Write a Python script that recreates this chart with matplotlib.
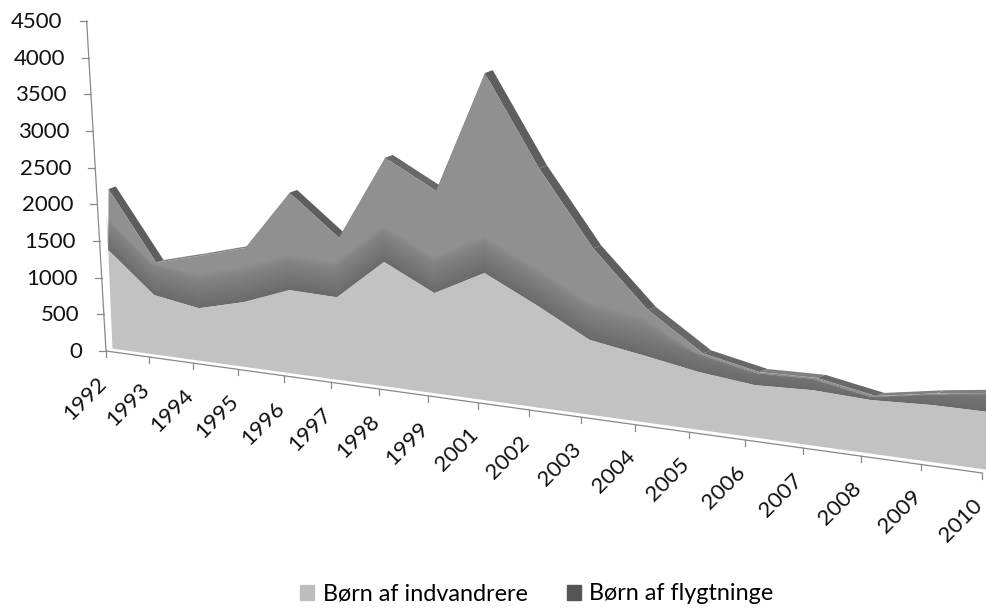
import numpy as np
import matplotlib
matplotlib.use("Agg")
import matplotlib.pyplot as plt
from matplotlib.patches import Patch

# data
years = ["1992", "1993", "1994", "1995", "1996", "1997", "1998", "1999", "2001",
         "2002", "2003", "2004", "2005", "2006", "2007", "2008", "2009", "2010"]
indvandrere = [1340, 797, 695, 851, 1083, 1063, 1590, 1264, 1589,
               1261, 909, 801, 684, 612, 639, 610, 642, 645]
flygtninge = [810, 418, 682, 697, 1255, 751, 1316, 1277, 2490,
              1681, 1105, 534, 204, 136, 124, 28, 114, 204]
yticks = [0, 500, 1000, 1500, 2000, 2500, 3000, 3500, 4000, 4500]
legend_labels = ["Børn af indvandrere", "Børn af flygtninge"]

plt.rcParams["font.family"] = ["Lato", "DejaVu Sans"]

LIGHT = "#c2c2c2"
DARK = "#909090"
EDGE = "#888888"


# pseudo 3D projekce: kategorie, hodnota, hloubka -> pixely
def proj(i, v, d=0.0):
    i = np.asarray(i, dtype=float)
    v = np.asarray(v, dtype=float)
    w = 1 - 0.00998 * i
    x = 106 + (42.8 * i + 19 * d + (0.00037 * i - 0.0043) * v) / w
    y = 351 + (5.96 * i - 0.0733 * v - 7 * d) / w
    return np.column_stack([x, y])


idx = np.arange(len(years))
light = np.array(indvandrere, dtype=float)
total = light + np.array(flygtninge, dtype=float)
zero = np.zeros(len(years))
FRONT = 0.42
TOP_FRONT = 0.62
FLOOR = 0.34

fig = plt.figure(figsize=(9.86, 6.09), dpi=100)
ax = fig.add_axes([0, 0, 1, 1])
ax.set_xlim(0, 986)
ax.set_ylim(609, 0)
ax.axis("off")

# horni strana oblasti, strmejsi klesani je tmavsi
for k in range(len(years) - 1):
    a = proj(idx[k:k + 2], total[k:k + 2], TOP_FRONT)
    b = proj(idx[k:k + 2], total[k:k + 2], 1.0)
    drop = (a[1, 1] - a[0, 1]) / (a[1, 0] - a[0, 0])
    shade = "#5e5e5e" if drop > 0.9 else "#686868" if drop > 0.25 else "#808080"
    ax.fill(np.r_[a[:, 0], b[::-1, 0]], np.r_[a[:, 1], b[::-1, 1]], color=shade, lw=0)

# predni strany
top = proj(idx, total, TOP_FRONT)
mid = proj(idx, light, FRONT)
bottom = proj(idx, zero, FLOOR)
dark_poly = np.vstack([mid, top[::-1]])
light_poly = np.vstack([bottom, mid[::-1]])
ax.fill(dark_poly[:, 0], dark_poly[:, 1], color=DARK, lw=0)

# tmavsi pruh nad hranici obou serii, plynuly prechod
for h in range(15, 480, 15):
    band_top = proj(idx, np.minimum(light + h, total), FRONT)
    band = np.vstack([mid, band_top[::-1]])
    ax.fill(band[:, 0], band[:, 1], color="#505050", alpha=0.018, lw=0)

ax.fill(light_poly[:, 0], light_poly[:, 1], color=LIGHT, lw=0)

# osa y
y_axis = proj([0, 0], [0, yticks[-1]])
ax.plot(y_axis[:, 0], y_axis[:, 1], color=EDGE, lw=0.9)
for t in yticks:
    x, y = proj(0, t)[0]
    ax.plot([x - 7, x], [y, y], color=EDGE, lw=0.9)
    ax.text(x - 24, y + 1, str(t), ha="right", va="center", fontsize=16, color="#111111")

# osa x
x_axis = proj(idx, zero)
ax.plot(x_axis[:, 0], x_axis[:, 1], color=EDGE, lw=0.9)
for i, year in zip(idx, years):
    x, y = proj(i, 0)[0]
    ax.plot([x, x], [y, y + 6], color=EDGE, lw=0.9)
    ax.text(x - 3, y + 29, year, rotation=45, rotation_mode="anchor",
            ha="right", va="center", fontsize=16, color="#111111")

handles = [Patch(color="#bdbdbd"), Patch(color="#555555")]
ax.legend(handles, legend_labels, ncol=2, frameon=False, fontsize=16.8,
          loc="center", bbox_to_anchor=(537, 594), bbox_transform=ax.transData,
          handlelength=0.6, handleheight=0.6, handletextpad=0.35, columnspacing=1.7)

fig.savefig("out.png", dpi=100)
